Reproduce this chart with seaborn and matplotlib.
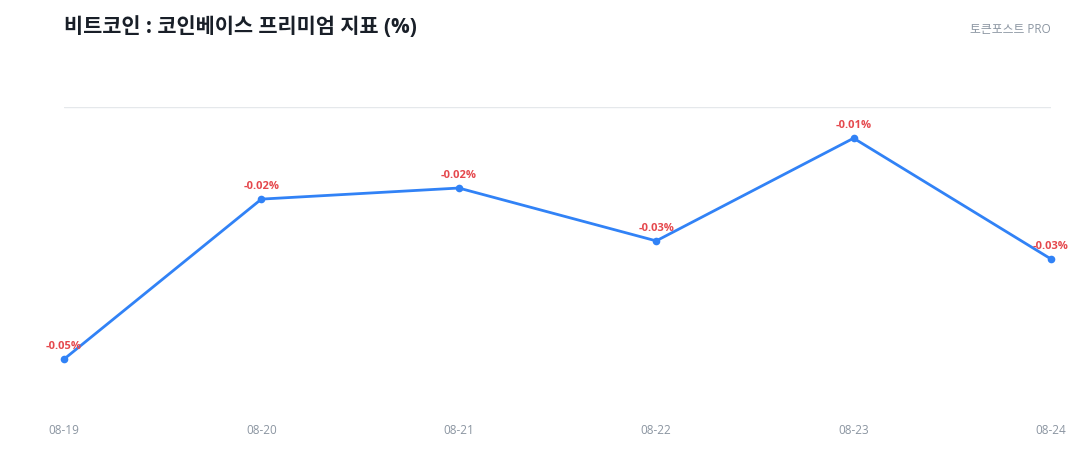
import matplotlib
matplotlib.use("Agg")
import matplotlib.pyplot as plt
import seaborn as sns
import pandas as pd

dates = ["08-19", "08-20", "08-21", "08-22", "08-23", "08-24"]
premium = [-0.0501, -0.0183, -0.0161, -0.0266, -0.0062, -0.0302]

sns.set_theme(style="white")
plt.rcParams['font.family'] = ['Open Sans', 'Noto Sans CJK KR', 'DejaVu Sans']

df = pd.DataFrame({"date": dates, "premium": premium})
df["idx"] = range(len(df))

fig = plt.figure(figsize=(10.8, 4.6), dpi=100)
ax = fig.add_axes([64 / 1080, 50 / 460, 987 / 1080, 302 / 460])

sns.lineplot(data=df, x="idx", y="premium", ax=ax, color="#3182f6",
             linewidth=2, marker="o", markersize=5.5, markeredgewidth=0,
             clip_on=False)

for i, v in zip(df["idx"], df["premium"]):
    ax.annotate(f"{v:.2f}%", (i, v), xytext=(0, 6), textcoords="offset points",
                ha="center", va="bottom", fontsize=8, fontweight="bold",
                color="#e5484d")

ax.set_xlim(0, len(dates) - 1)
ax.set_ylim(-0.06, 0)
ax.set_xticks(df["idx"])
ax.set_xticklabels(dates, fontsize=8.5, color="#8b95a1")
ax.tick_params(axis="x", length=0, pad=10)
ax.set_yticks([0])
ax.set_yticklabels([])
ax.tick_params(axis="y", length=0)
ax.yaxis.grid(True, color="#e5e8eb", linewidth=1)
ax.set_xlabel("")
ax.set_ylabel("")
sns.despine(ax=ax, left=True, bottom=True)

fig.text(64 / 1080, 1 - 27 / 460, "비트코인 : 코인베이스 프리미엄 지표 (%)",
         fontsize=15, fontweight="bold", color="#191f28", ha="left",
         va="center")
fig.text(1051 / 1080, 1 - 30 / 460, "토큰포스트 PRO", fontsize=8.5,
         color="#8b95a1", ha="right", va="center")

fig.savefig("out.png", dpi=100)
